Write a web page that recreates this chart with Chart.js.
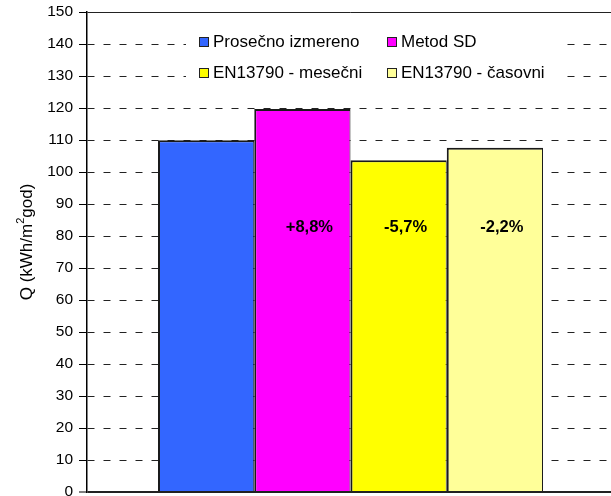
<!DOCTYPE html>
<html>
<head>
<meta charset="utf-8">
<script src="https://cdn.jsdelivr.net/npm/chart.js@4/dist/chart.umd.min.js"></script>
<style>
  html, body { margin: 0; padding: 0; background: #fff; }
  #wrap { width: 611px; height: 496px; overflow: hidden; position: relative; }
  canvas { display: block; }
</style>
</head>
<body>
<div id="wrap"><canvas id="c" width="616" height="510"></canvas></div>
<script>
// Annual heating energy need per method
const categories = [''];
const seriesLabels = ['Prosečno izmereno', 'Metod SD', 'EN13790 - mesečni', 'EN13790 - časovni'];
const seriesValues = [110, 119.7, 103.7, 107.6];
const seriesColors = ['#3366FF', '#FF00FF', '#FFFF00', '#FFFF99'];
const diffLabels = ['', '+8,8%', '-5,7%', '-2,2%'];
const yMin = 0, yMax = 150, yStep = 10;
const yTitleParts = ['Q (kWh/m', '2', 'god)'];
const diffLabelLevel = 82.7;

const FONT = "'Liberation Sans', Arial, sans-serif";

const datasets = seriesLabels.map((label, i) => ({
  label,
  data: [seriesValues[i]],
  backgroundColor: seriesColors[i],
  borderColor: '#1a1a1a',
  borderWidth: { top: 2, left: 2, right: 1, bottom: 0 },
  borderSkipped: false,
  barPercentage: 1,
  categoryPercentage: 0.7306
}));

// Percent differences written on the bars
const diffPlugin = {
  id: 'diffLabels',
  afterDatasetsDraw(chart) {
    const ctx = chart.ctx;
    const y = chart.scales.y.getPixelForValue(diffLabelLevel);
    ctx.save();
    ctx.font = 'bold 16.5px ' + FONT;
    ctx.fillStyle = '#000';
    ctx.textAlign = 'center';
    ctx.textBaseline = 'middle';
    diffLabels.forEach((t, i) => {
      if (!t) return;
      const bar = chart.getDatasetMeta(i).data[0];
      ctx.fillText(t, bar.x + 7, y);
    });
    ctx.restore();
  }
};

// Two-column legend box inside the plot and the rotated axis title
const legendPlugin = {
  id: 'boxLegend',
  afterDatasetsDraw(chart) {
    const ctx = chart.ctx;
    ctx.save();
    ctx.fillStyle = '#fff';
    ctx.fillRect(186, 26, 378, 66);
    ctx.font = '17px ' + FONT;
    ctx.textBaseline = 'middle';
    ctx.textAlign = 'left';
    const cols = [199, 387];
    const rows = [41.5, 72.5];
    seriesLabels.forEach((label, i) => {
      const mx = cols[i % 2], my = rows[Math.floor(i / 2)];
      ctx.fillStyle = seriesColors[i];
      ctx.fillRect(mx, my - 4.5, 10, 9);
      ctx.strokeStyle = '#222';
      ctx.lineWidth = 1;
      ctx.strokeRect(mx + 0.5, my - 4.5 + 0.5, 9, 9);
      ctx.fillStyle = '#000';
      ctx.fillText(label, mx + 14, my + 1);
    });
    ctx.restore();
  },
  afterDraw(chart) {
    const ctx = chart.ctx;
    ctx.save();
    ctx.translate(27, 242);
    ctx.rotate(-Math.PI / 2);
    ctx.fillStyle = '#000';
    ctx.textBaseline = 'middle';
    ctx.textAlign = 'left';
    const big = '17px ' + FONT, small = '11px ' + FONT;
    ctx.font = big;
    const w0 = ctx.measureText(yTitleParts[0]).width;
    const w2 = ctx.measureText(yTitleParts[2]).width;
    ctx.font = small;
    const w1 = ctx.measureText(yTitleParts[1]).width;
    let x = -(w0 + w1 + w2) / 2;
    ctx.font = big;
    ctx.fillText(yTitleParts[0], x, 0);
    x += w0;
    ctx.font = small;
    ctx.fillText(yTitleParts[1], x, -6);
    x += w1;
    ctx.font = big;
    ctx.fillText(yTitleParts[2], x, 0);
    ctx.restore();
  }
};

new Chart(document.getElementById('c'), {
  type: 'bar',
  data: { labels: categories, datasets },
  options: {
    responsive: false,
    animation: false,
    devicePixelRatio: 1,
    layout: { padding: { top: 12, bottom: 18, left: 0, right: 2 } },
    plugins: { legend: { display: false }, tooltip: { enabled: false }, title: { display: false } },
    scales: {
      x: { display: false },
      y: {
        min: yMin, max: yMax,
        afterFit(scale) { scale.width = 87; },
        ticks: { stepSize: yStep, color: '#000', font: { family: FONT, size: 15.5, lineHeight: 0.8 }, padding: 6 },
        grid: {
          color: '#222',
          lineWidth: (c) => (c.tick && c.tick.value === 0 ? 2 : 1),
          tickLength: 8,
          tickColor: '#000',
          tickWidth: 1,
          tickBorderDash: []
        },
        border: {
          display: true, color: '#000', width: 1.5,
          dash: (c) => (c.tick && (c.tick.value === 0 || c.tick.value === yMax) ? [] : [7, 9])
        }
      }
    }
  },
  plugins: [diffPlugin, legendPlugin]
});
</script>
</body>
</html>
